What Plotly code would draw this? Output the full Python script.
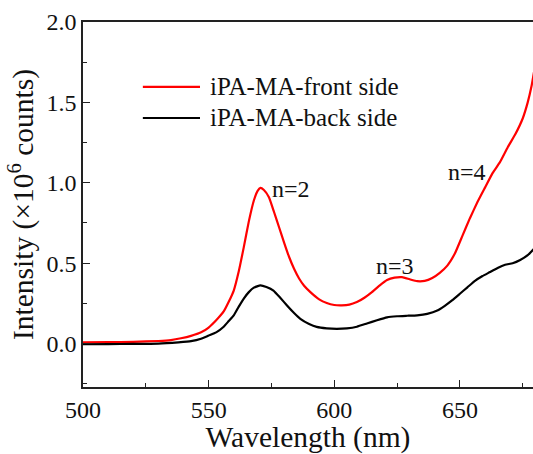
import plotly.graph_objects as go

# ---- data ----
red_x = [500, 510, 520, 530, 535, 539, 543, 547, 550, 553, 556, 558, 560, 562, 564, 566, 568, 569.5, 570.6, 572,
         574, 576, 578, 580, 582, 584, 586, 588, 590.5, 594, 597, 600, 603, 606, 609, 612, 615, 618, 621, 624,
         627, 630, 633, 636, 639, 642, 645, 648, 651, 654, 657, 660, 663, 666, 669, 672, 675, 677, 678.5, 679.5]
red_y = [0.008, 0.009, 0.011, 0.016, 0.022, 0.033, 0.048, 0.070, 0.10, 0.145, 0.20, 0.26, 0.33, 0.45, 0.60, 0.76, 0.89, 0.95, 0.968, 0.955,
         0.91, 0.82, 0.725, 0.63, 0.54, 0.465, 0.405, 0.36, 0.32, 0.275, 0.252, 0.24, 0.238, 0.242, 0.258, 0.285, 0.32, 0.36, 0.395, 0.41,
         0.413, 0.40, 0.388, 0.39, 0.408, 0.44, 0.485, 0.56, 0.67, 0.78, 0.88, 0.97, 1.06, 1.13, 1.22, 1.30, 1.40, 1.50, 1.60, 1.69]

black_x = [500, 510, 520, 530, 538, 543, 547, 550, 553, 556, 558, 560, 562, 564, 566, 568, 570.6, 573, 575.8, 578.5,
           581.2, 584, 586.5, 590, 593, 597, 601, 605, 609, 613, 617, 621, 625, 629, 633, 637, 641, 644, 647, 650,
           653, 656, 659, 662, 665, 668, 671, 674, 677, 679.5]
black_y = [-0.004, -0.003, -0.002, 0.0, 0.008, 0.015, 0.03, 0.05, 0.07, 0.105, 0.14, 0.175, 0.23, 0.28, 0.32, 0.348, 0.362, 0.352, 0.33, 0.285,
           0.237, 0.19, 0.154, 0.122, 0.104, 0.095, 0.092, 0.095, 0.105, 0.125, 0.145, 0.163, 0.17, 0.173, 0.176, 0.185, 0.205, 0.235, 0.27, 0.31,
           0.35, 0.39, 0.42, 0.445, 0.47, 0.49, 0.50, 0.52, 0.55, 0.59]

series_names = ["iPA-MA-front side", "iPA-MA-back side"]
series_colors = ["#ff0000", "#000000"]

peak_labels = ["n=2", "n=3", "n=4"]
peak_x = [582.9, 624.3, 652.9]
peak_y = [0.96, 0.48, 1.07]

x_ticks = [500, 550, 600, 650]
y_ticks = [0.0, 0.5, 1.0, 1.5, 2.0]

FONT = "Liberation Serif"

fig = go.Figure()
for xs, ys, name, col in [(red_x, red_y, series_names[0], series_colors[0]),
                          (black_x, black_y, series_names[1], series_colors[1])]:
    fig.add_trace(go.Scatter(x=xs, y=ys, mode="lines", name=name, showlegend=False,
                             line=dict(color=col, width=2.2, shape="spline", smoothing=0.4)))

# manual legend
leg_y = [0.822, 0.737]
for yy, name, col in zip(leg_y, series_names, series_colors):
    fig.add_shape(type="line", xref="paper", yref="paper", x0=0.133, x1=0.26, y0=yy, y1=yy,
                  line=dict(color=col, width=2.2))
    fig.add_annotation(xref="paper", yref="paper", x=0.278, y=yy, text=name, showarrow=False,
                       xanchor="left", yanchor="middle", font=dict(family=FONT, size=25, color="#111"))

for t, xx, yy in zip(peak_labels, peak_x, peak_y):
    fig.add_annotation(x=xx, y=yy, text=t, showarrow=False, xanchor="center", yanchor="middle",
                       font=dict(family=FONT, size=24, color="#111"))

axis_common = dict(showline=True, linecolor="#222", linewidth=1.5, ticks="inside", ticklen=7,
                   tickwidth=1.3, tickcolor="#222", showgrid=False, zeroline=False,
                   tickfont=dict(family=FONT, size=24, color="#111"))

fig.update_xaxes(range=[500, 679.1], tickvals=x_ticks, mirror=True,
                 minor=dict(ticks="inside", ticklen=4, dtick=25, tick0=500, tickcolor="#222", tickwidth=1.3),
                 title=dict(text="Wavelength (nm)", font=dict(family=FONT, size=29.5, color="#111"), standoff=2),
                 **axis_common)
fig.update_yaxes(range=[-0.27, 2.0], tickvals=y_ticks, ticktext=[f"{v:.1f}" for v in y_ticks], mirror=False,
                 minor=dict(ticks="inside", ticklen=4, dtick=0.25, tick0=0, tickcolor="#222", tickwidth=1.3),
                 title=dict(text="Intensity (×10<sup>6</sup> counts)", font=dict(family=FONT, size=29.5, color="#111"), standoff=4),
                 **axis_common)

fig.update_layout(width=533, height=454, margin=dict(l=83, r=0, t=22, b=67),
                  plot_bgcolor="white", paper_bgcolor="white", font=dict(family=FONT))

fig.write_html("out.html")
